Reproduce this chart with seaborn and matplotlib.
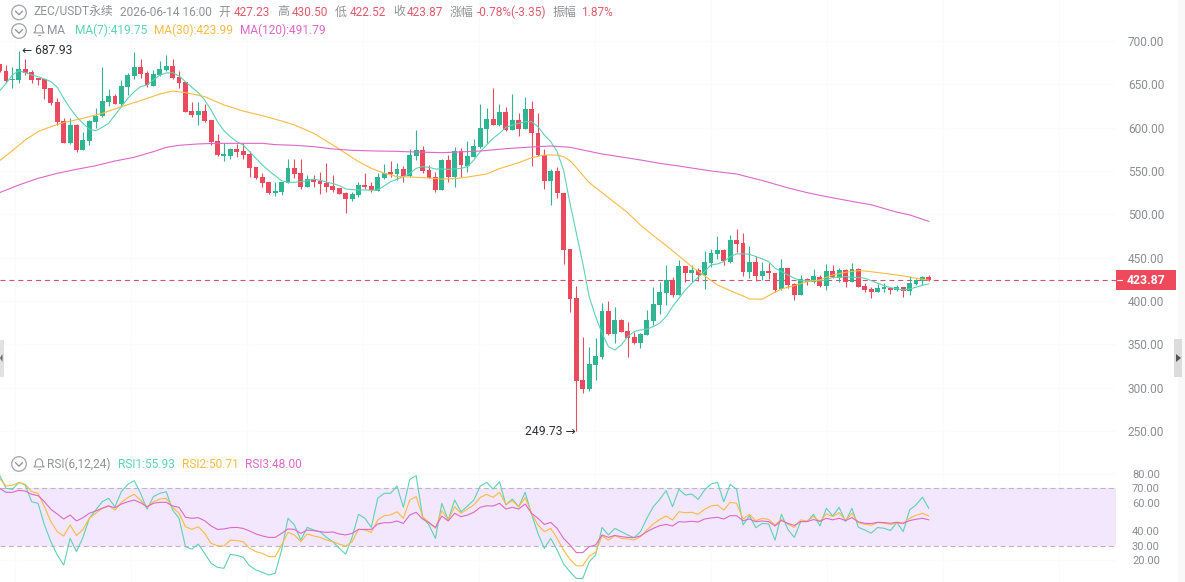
import matplotlib
matplotlib.use("Agg")
import matplotlib.pyplot as plt
from matplotlib.patches import Rectangle, Circle, Polygon
import numpy as np
import pandas as pd
import seaborn as sns

# ---- hourly candles, ZEC/USDT perpetual ----
opens = [673.1,665.4,654.6,655.0,667.3,663.8,657.7,656.1,645.8,629.6,607.7,581.9,603.1,574.6,585.0,606.9,613.8,630.0,636.5,626.9,
         647.3,659.6,669.6,662.7,648.5,660.8,666.5,671.2,658.1,652.7,619.2,615.0,619.2,608.8,584.6,567.7,567.7,575.4,573.1,569.2,
         555.0,543.1,537.3,525.0,525.4,536.5,553.1,547.3,531.9,540.4,538.5,536.2,532.7,530.4,524.2,517.7,522.3,533.5,532.7,527.3,
         542.3,548.5,546.9,552.3,544.2,567.3,574.2,551.1,543.0,528.0,562.7,542.7,573.0,556.1,566.5,578.0,598.4,609.6,603.0,618.0,
         597.3,608.8,598.4,621.1,593.4,568.4,538.8,550.0,525.0,459.6,403.0,308.8,298.0,326.1,335.0,388.4,361.9,378.0,365.4,358.0,
         351.1,360.8,377.0,395.4,409.6,424.3,407.0,440.4,432.7,435.8,430.0,444.3,454.3,458.9,445.4,470.4,466.6,433.5,445.0,428.9,
         434.6,432.0,413.5,437.7,419.3,407.0,425.0,422.3,428.1,417.3,434.6,426.2,435.8,422.3,437.0,417.3,413.9,410.8,413.9,414.6,
         412.7,415.8,412.0,420.0,423.5,427.23]
highs = [673.5,672.3,670.4,687.93,678.8,666.5,657.7,656.1,645.8,633.8,610.8,610.8,604.2,595.4,608.8,622.3,670.4,644.2,638.8,655.0,
         663.5,687.7,678.8,665.8,666.5,676.9,683.8,678.8,665.4,652.7,630.0,630.0,626.9,608.8,592.3,582.7,576.9,581.2,582.0,573.5,
         555.0,547.3,537.3,537.7,537.3,563.8,563.8,563.5,545.4,545.4,548.5,558.8,545.4,530.4,526.2,525.4,536.9,547.3,537.7,547.3,
         558.1,561.9,559.6,555.7,575.0,597.3,578.8,556.9,549.2,563.4,568.4,578.0,576.1,584.6,586.5,627.3,623.0,645.3,627.3,624.2,
         638.8,616.5,635.0,631.1,616.5,575.0,552.3,554.2,525.0,459.6,417.3,358.8,346.5,356.9,397.3,400.4,392.7,378.8,376.1,364.6,
         363.4,389.6,416.6,422.3,441.6,427.3,447.3,440.4,441.6,437.7,457.7,459.6,475.0,459.6,476.2,482.7,478.9,463.5,452.0,445.4,
         443.5,432.7,448.5,437.7,420.4,430.0,426.2,436.6,430.0,442.7,441.6,437.7,436.6,443.5,437.7,420.4,416.6,419.3,420.4,416.6,
         418.5,416.6,428.9,425.0,429.3,430.50]
lows = [664.6,651.1,646.2,651.9,660.8,651.2,649.2,632.7,625.8,603.1,581.9,581.1,572.3,574.6,580.0,599.2,612.7,625.0,627.3,624.2,
        637.7,655.8,656.9,646.5,648.5,659.6,665.8,655.8,646.2,618.5,611.9,603.1,606.9,580.0,567.3,561.5,563.8,566.5,563.5,543.5,
        540.4,531.9,523.0,521.5,522.3,535.8,541.5,528.8,531.2,531.2,523.5,525.4,526.2,523.8,502.0,515.8,520.4,528.8,525.4,527.3,
        541.2,543.5,539.6,537.7,542.7,562.7,547.3,541.9,526.1,528.0,537.7,531.9,543.4,549.2,565.7,576.1,581.9,603.4,601.9,596.5,
        597.3,590.3,598.0,555.7,567.3,528.8,510.7,519.2,442.7,386.9,249.73,293.4,296.5,308.8,332.7,360.7,351.1,363.8,335.7,350.4,
        346.1,360.8,372.3,385.0,395.4,405.0,407.0,422.3,422.3,423.5,413.5,438.9,448.5,441.6,444.3,456.0,428.9,426.2,423.5,424.3,
        425.0,410.8,412.7,414.6,401.2,407.0,418.5,420.4,416.6,412.7,426.2,422.3,416.6,422.3,416.6,410.8,403.9,410.8,410.8,408.1,
        412.0,405.0,407.0,418.5,418.5,422.52]
closes = [665.4,653.8,656.1,667.7,663.5,655.0,655.0,645.0,628.8,606.2,582.7,603.1,574.2,585.8,607.7,613.8,630.8,636.5,627.3,648.1,
          660.8,669.6,662.3,649.2,661.9,667.3,671.2,657.3,651.9,618.5,614.6,619.2,608.1,583.1,568.5,569.6,575.4,572.3,568.1,553.8,
          541.5,536.5,525.0,526.9,537.3,553.1,546.5,531.9,540.4,537.7,535.0,531.9,528.1,523.8,517.7,523.5,533.8,531.2,528.1,542.7,
          547.3,546.2,552.3,544.2,568.4,574.2,550.0,541.9,528.0,562.7,543.4,573.0,556.9,567.3,578.8,599.2,609.6,603.4,618.4,597.3,
          608.8,598.4,621.1,593.4,568.4,538.8,550.0,524.2,458.8,402.7,308.0,298.4,327.3,336.5,388.4,361.9,378.0,364.6,357.7,351.1,
          362.0,378.1,396.6,410.8,424.3,407.0,440.4,432.7,435.8,430.0,445.0,455.0,458.9,446.2,470.4,465.8,433.9,445.0,428.9,434.6,
          432.0,412.7,437.7,418.5,407.0,425.0,421.9,428.9,417.3,434.6,427.3,435.8,422.3,436.6,416.6,412.7,410.8,414.6,415.8,413.1,
          415.8,412.0,420.4,424.3,427.3,423.87]

# ---- moving averages ----
ma7 = [642.3,651.2,660.8,665.8,663.5,660.8,658.8,656.1,653.1,646.5,633.8,622.3,612.7,605.0,598.1,596.5,600.4,605.0,614.6,624.2,
       633.8,641.5,647.3,649.2,655.0,660.8,663.1,663.5,659.6,653.1,646.5,640.4,631.9,620.4,606.9,596.5,589.6,583.8,580.0,572.3,
       564.6,556.9,550.4,544.6,538.8,536.9,536.9,537.7,538.8,540.4,539.2,537.3,535.4,533.1,529.2,528.5,528.1,528.1,527.7,528.1,
       532.7,537.7,540.4,543.4,547.3,553.0,555.0,554.2,552.3,552.3,551.9,552.3,553.0,555.0,562.7,572.3,580.0,587.7,593.4,600.3,
       603.0,604.9,606.9,606.9,601.1,591.5,583.8,572.3,551.1,512.7,478.0,443.4,405.0,381.9,362.7,347.3,343.4,349.2,358.8,364.6,
       366.5,367.3,370.4,374.3,382.0,393.5,403.1,412.7,420.4,427.3,433.9,441.6,442.7,445.4,451.2,454.3,454.3,453.9,451.2,448.5,
       445.4,437.7,433.9,430.0,426.2,423.5,423.5,423.5,423.1,424.3,427.3,427.3,428.1,427.3,427.3,426.2,423.5,420.4,417.7,415.4,
       413.9,412.7,413.9,415.8,418.1,419.75]
ma30_idx = [0,2,4,6,8,10,13,16,19,22,25,27,29,32,35,38,41,44,46,49,52,54,56,58,60,62,63,65,67,69,71,73,76,78,81,83,85,87,88,89,
            90,92,94,96,98,100,102,104,106,108,110,112,114,116,117,119,120,122,124,126,128,130,132,134,135,138,141,143,145]
ma30 = [561.9,573.5,585.8,595.4,601.2,605.8,610.8,616.5,624.2,631.2,638.8,642.3,640.4,635.8,626.2,619.2,613.8,607.7,603.1,593.5,
        580.0,570.4,560.8,553.1,547.3,543.5,543.4,542.7,541.9,540.7,541.1,543.0,546.5,552.7,559.6,565.3,568.4,568.4,566.5,561.9,
        553.8,536.5,525.0,513.4,501.9,487.5,475.4,464.0,451.9,439.6,428.9,418.5,411.9,405.8,402.3,402.0,406.2,413.9,417.7,422.3,
        424.3,430.0,433.1,435.0,434.6,431.9,428.9,426.2,423.99]
ma120_idx = [0,3,6,9,12,15,18,21,24,26,28,31,34,39,41,43,46,49,52,55,59,62,63,69,75,79,83,86,89,94,100,103,106,111,115,119,
             123,126,129,134,136,140,142,145]
ma120 = [525.0,533.8,541.5,547.3,551.9,556.1,561.5,565.8,572.3,577.3,579.6,581.2,581.9,581.9,581.9,580.4,579.6,578.1,575.4,573.8,
         573.0,572.7,572.3,571.1,573.0,575.7,577.7,578.8,577.3,569.6,562.7,558.8,555.7,550.0,546.5,539.0,530.5,525.0,520.4,513.5,
         511.0,502.5,499.3,491.79]

# ---- RSI(6,12,24) ----
rsi1 = [79.5,70.1,69.4,74.3,72.4,60.7,59.6,44.4,32.7,23.3,16.3,35.0,25.7,35.7,49.1,54.9,60.7,63.1,57.2,67.8,72.9,75.5,66.6,55.4,64.3,
        66.6,67.8,54.9,49.1,29.2,27.5,31.0,24.5,17.5,14.7,14.0,23.8,23.1,21.7,15.8,12.8,11.2,9.3,10.5,26.8,49.1,44.4,33.8,42.7,40.9,
        39.7,35.7,32.7,28.0,24.0,35.7,51.9,49.1,42.7,63.1,66.6,66.6,71.7,
        56.8,76.4,79.0,50.2,44.4,35.0,59.6,47.9,61.9,53.7,57.7,61.9,71.7,74.3,69.6,74.8,58.4,62.6,57.2,67.3,52.1,38.5,28.0,35.0,26.8,
        17.0,11.6,6.9,6.9,18.6,23.3,42.7,37.4,42.0,39.7,37.4,35.5,39.7,49.1,57.2,62.4,68.5,57.2,69.4,65.4,66.1,62.4,68.9,73.1,74.3,
        60.7,72.9,69.4,44.4,50.9,42.5,45.5,45.1,33.8,51.9,41.3,35.7,
        46.8,46.8,51.9,43.7,56.1,50.7,56.8,46.8,56.1,42.8,40.9,38.6,42.6,42.1,40.5,46.1,39.8,55.0,58.5,63.9,55.93]
rsi2 = [77.1,71.7,72.4,74.1,72.9,67.8,66.6,57.2,46.7,39.7,36.7,44.4,36.9,41.3,49.1,52.6,56.1,57.9,54.9,60.3,63.6,65.9,61.9,56.8,60.7,
        62.6,63.1,56.8,52.6,43.2,41.3,43.2,38.5,31.5,29.9,29.6,33.8,33.4,32.7,28.0,25.7,24.5,22.2,22.2,30.3,39.2,37.4,32.7,38.1,36.7,
        35.7,33.8,32.7,31.0,29.6,32.7,41.3,40.9,39.2,47.9,50.9,51.4,53.7,
        49.1,61.9,64.3,50.2,46.2,42.0,54.4,47.9,57.2,52.6,55.6,58.4,63.8,65.9,63.8,67.3,58.9,61.4,57.2,63.6,52.6,44.4,39.7,42.0,35.0,
        26.8,20.3,15.8,15.8,22.6,25.2,36.7,33.8,36.9,35.0,34.6,33.8,36.2,40.9,45.1,48.3,50.7,47.9,53.7,53.0,53.3,51.9,55.4,57.7,58.4,
        54.9,60.3,59.6,48.6,51.9,47.4,49.1,48.3,44.4,48.3,45.1,42.7,
        48.0,47.2,50.3,46.8,52.2,50.3,53.1,47.5,52.6,46.1,44.9,44.2,46.1,45.6,44.9,45.6,45.6,49.1,51.2,52.6,50.71]
rsi3 = [70.1,67.3,67.3,68.7,68.2,65.9,65.0,60.7,55.4,52.1,48.6,51.4,47.2,49.5,52.6,54.2,56.1,57.7,56.5,59.1,60.7,61.9,60.0,57.2,59.6,
        60.3,60.3,57.7,56.8,49.8,49.1,49.5,47.4,43.7,41.3,41.6,42.5,42.7,42.0,40.2,38.1,36.7,35.7,35.7,38.5,41.6,41.3,38.5,40.9,40.4,
        39.7,39.2,39.5,38.1,37.4,38.5,41.3,41.3,41.3,45.1,46.0,46.0,47.2,
        45.5,51.4,53.3,48.6,46.0,42.7,50.7,47.2,52.6,50.2,51.4,53.3,56.8,57.9,57.7,59.6,55.6,56.8,55.6,59.1,52.6,49.1,44.8,46.2,42.0,
        35.0,30.3,25.0,25.0,29.2,30.3,37.4,35.7,37.1,36.2,35.7,35.5,36.7,39.7,42.0,43.9,44.8,43.7,46.7,46.5,47.0,46.5,48.6,49.3,49.8,
        48.6,50.9,50.9,47.4,48.6,46.7,47.2,46.7,43.7,47.6,45.5,44.1,
        46.8,46.8,48.2,47.0,49.1,48.0,49.1,47.5,49.6,46.5,45.6,45.4,46.3,46.1,45.6,46.3,45.6,47.5,48.4,49.1,48.00]

price_ticks = [250, 300, 350, 400, 450, 500, 550, 600, 650, 700]
rsi_ticks = [20, 30, 40, 60, 70, 80]

UP = "#2fb592"
DOWN = "#ea4a5e"
TEAL = "#5dd3b3"
AMBER = "#f8bb45"
PINK = "#dd68c6"
GREY_TEXT = "#8f9296"
RED_TEXT = "#e25a6d"
AXIS_TEXT = "#8b8e93"

W, H = 1185, 582
FONT = ["Roboto", "Noto Sans CJK SC", "DejaVu Sans"]
LINE = 0.8

sns.set_theme(style="white")
plt.rcParams["font.family"] = FONT

fig = plt.figure(figsize=(W / 100, H / 100), dpi=100, facecolor="white")


def frame(left, top, right, bottom):
    return [left / W, 1 - bottom / H, (right - left) / W, (bottom - top) / H]


ax = fig.add_axes(frame(0, 0, 1116, 450))
ax_rsi = fig.add_axes(frame(0, 450, 1116, 582))
hud = fig.add_axes([0, 0, 1, 1], facecolor="none")
hud.set_xlim(0, W)
hud.set_ylim(H, 0)
hud.axis("off")

candles = pd.DataFrame({"o": opens, "h": highs, "l": lows, "c": closes})
candles["i"] = candles.index
candles["colour"] = np.where(candles.c >= candles.o, UP, DOWN)

xlim = (0.06, 174.2)
grid_x = np.arange(2.4, 175, 18.1)

for a in (ax, ax_rsi):
    a.set_xlim(*xlim)
    a.set_xticks(grid_x)
    a.tick_params(axis="x", bottom=False, labelbottom=False)
    a.grid(True, color="#fbfbfb", lw=1)
    a.set_axisbelow(True)
    a.set_xlabel("")
    a.set_ylabel("")
    sns.despine(ax=a, left=True, bottom=True, top=True, right=True)
    a.yaxis.tick_right()
    a.set_facecolor("none")

# price panel
ax.set_ylim(228.0, 747.3)
ax.set_yticks(price_ticks)
ax.set_yticklabels([f"{v:.2f}" for v in price_ticks], fontsize=8.6, color=AXIS_TEXT)
ax.tick_params(axis="y", length=0, pad=8.6)

ax.vlines(candles.i, candles.l, candles.h, colors=candles.colour, lw=0.8, zorder=2)
ax.bar(candles.i, (candles.c - candles.o).abs().clip(lower=0.8),
       bottom=candles[["o", "c"]].min(axis=1), width=0.76,
       color=candles.colour, lw=0, zorder=3)

last_price = closes[-1]
ax.axhline(last_price, color="#d4516e", lw=0.8, dashes=(4.5, 3.5), zorder=1.5)

sns.lineplot(x=range(len(ma7)), y=ma7, ax=ax, color=TEAL, lw=LINE, estimator=None, zorder=4)
sns.lineplot(x=ma30_idx, y=ma30, ax=ax, color=AMBER, lw=LINE, estimator=None, zorder=4)
sns.lineplot(x=ma120_idx, y=ma120, ax=ax, color=PINK, lw=LINE, estimator=None, zorder=4)
ax.set_xlabel("")
ax.set_ylabel("")

hi_i = int(np.argmax(highs))
lo_i = int(np.argmin(lows))
ax.annotate(f"← {highs[hi_i]:.2f}", xy=(hi_i, highs[hi_i]), xytext=(2.2, 0.4), textcoords="offset points",
            ha="left", va="center", fontsize=8.7, color="#2e3236", annotation_clip=False,
            family=["Roboto", "DejaVu Sans"], zorder=6)
ax.annotate(f"{lows[lo_i]:.2f} →", xy=(lo_i, lows[lo_i]), xytext=(-0.6, 0), textcoords="offset points",
            ha="right", va="center", fontsize=8.7, color="#2e3236", annotation_clip=False,
            family=["Roboto", "DejaVu Sans"], zorder=6)

# RSI panel
ax_rsi.set_ylim(4.4, 97.0)
ax_rsi.set_yticks(rsi_ticks)
ax_rsi.set_yticklabels([f"{v:.2f}" for v in rsi_ticks], fontsize=8.0, color=AXIS_TEXT)
ax_rsi.tick_params(axis="y", length=0, pad=11.5)
ax_rsi.axhspan(30, 70, color="#f3e7fd", lw=0, zorder=0.8)
for level in (30, 70):
    ax_rsi.axhline(level, color="#bdb6c2", lw=0.8, dashes=(4.5, 3), zorder=1)
for series, colour in ((rsi1, TEAL), (rsi2, AMBER), (rsi3, PINK)):
    sns.lineplot(x=range(len(series)), y=series, ax=ax_rsi, color=colour, lw=LINE, estimator=None, zorder=3)
ax_rsi.set_xlabel("")
ax_rsi.set_ylabel("")


def label(x, y, text, colour, size=8.6, weight="normal"):
    hud.text(x, y, text, color=colour, fontsize=size, ha="left", va="center", weight=weight, family=FONT)


def chevron(cx, cy):
    hud.add_patch(Circle((cx, cy), 7.3, fill=False, ec="#a2a4a8", lw=0.9))
    hud.plot([cx - 3.6, cx, cx + 3.6], [cy - 1.4, cy + 2.2, cy - 1.4], color="#8d8f93", lw=0.9)


def bell(cx, cy):
    t = np.linspace(np.pi, 2 * np.pi, 20)
    hud.plot(cx + 3.6 * np.cos(t), cy - 0.8 + 3.8 * np.sin(t), color="#9a9c9f", lw=0.8)
    hud.plot([cx - 3.6, cx - 3.6, cx - 5.2, cx + 5.2, cx + 3.6, cx + 3.6],
             [cy - 0.8, cy + 1.6, cy + 3.4, cy + 3.4, cy + 1.6, cy - 0.8], color="#9a9c9f", lw=0.8)
    hud.plot([cx - 1.4, cx + 1.4], [cy + 5.2, cy + 5.2], color="#9a9c9f", lw=0.8)


# header rows
chevron(19, 12.5)
label(33, 12, "ZEC/USDT永续", GREY_TEXT)
label(119.5, 12, "2026-06-14 16:00", GREY_TEXT)
for x, text, colour in [(218, "开", GREY_TEXT), (234, "427.23", RED_TEXT), (277, "高", GREY_TEXT), (292, "430.50", RED_TEXT),
                        (335, "低", GREY_TEXT), (350, "422.52", RED_TEXT), (393, "收", GREY_TEXT), (407, "423.87", RED_TEXT),
                        (450, "涨幅", GREY_TEXT), (477, "-0.78%(-3.35)", RED_TEXT), (553, "振幅", GREY_TEXT), (581, "1.87%", RED_TEXT)]:
    label(x, 12, text, colour)

chevron(19, 31)
bell(39, 29.5)
label(47.5, 30, "MA", GREY_TEXT)
label(75, 30, "MA(7):419.75", TEAL)
label(154, 30, "MA(30):423.99", AMBER)
label(240, 30, "MA(120):491.79", PINK)

chevron(19, 464)
bell(39, 463.5)
label(47.5, 464, "RSI(6,12,24)", GREY_TEXT)
label(118, 464, "RSI1:55.93", TEAL)
label(182, 464, "RSI2:50.71", AMBER)
label(245, 464, "RSI3:48.00", PINK)

# last-price flag on the axis
flag_y = H - ax.transData.transform((1, last_price))[1]
hud.add_patch(Rectangle((1116, flag_y - 10), 60, 20, fc="#ef4a5c", ec="none"))
hud.plot([1117, 1122], [flag_y, flag_y], color="white", lw=0.8)
hud.text(1146, flag_y, f"{last_price:.2f}", color="white", fontsize=8.8, weight="bold",
         ha="center", va="center", family=FONT)

# side drawer handles
hud.add_patch(Rectangle((1178, 0), 7, H, fc="#f9f9fa", ec="none"))
hud.add_patch(Rectangle((1174, 339), 8, 38, fc="#dcdcdc", ec="none"))
hud.add_patch(Polygon([(1176, 354), (1176, 362), (1181, 358)], fc="#555555", ec="none"))
hud.add_patch(Rectangle((0, 340), 4, 37, fc="#e2e2e2", ec="none"))
hud.add_patch(Polygon([(2.5, 354), (2.5, 362), (0, 358)], fc="#666666", ec="none"))

fig.savefig("out.png", dpi=100, facecolor="white")
